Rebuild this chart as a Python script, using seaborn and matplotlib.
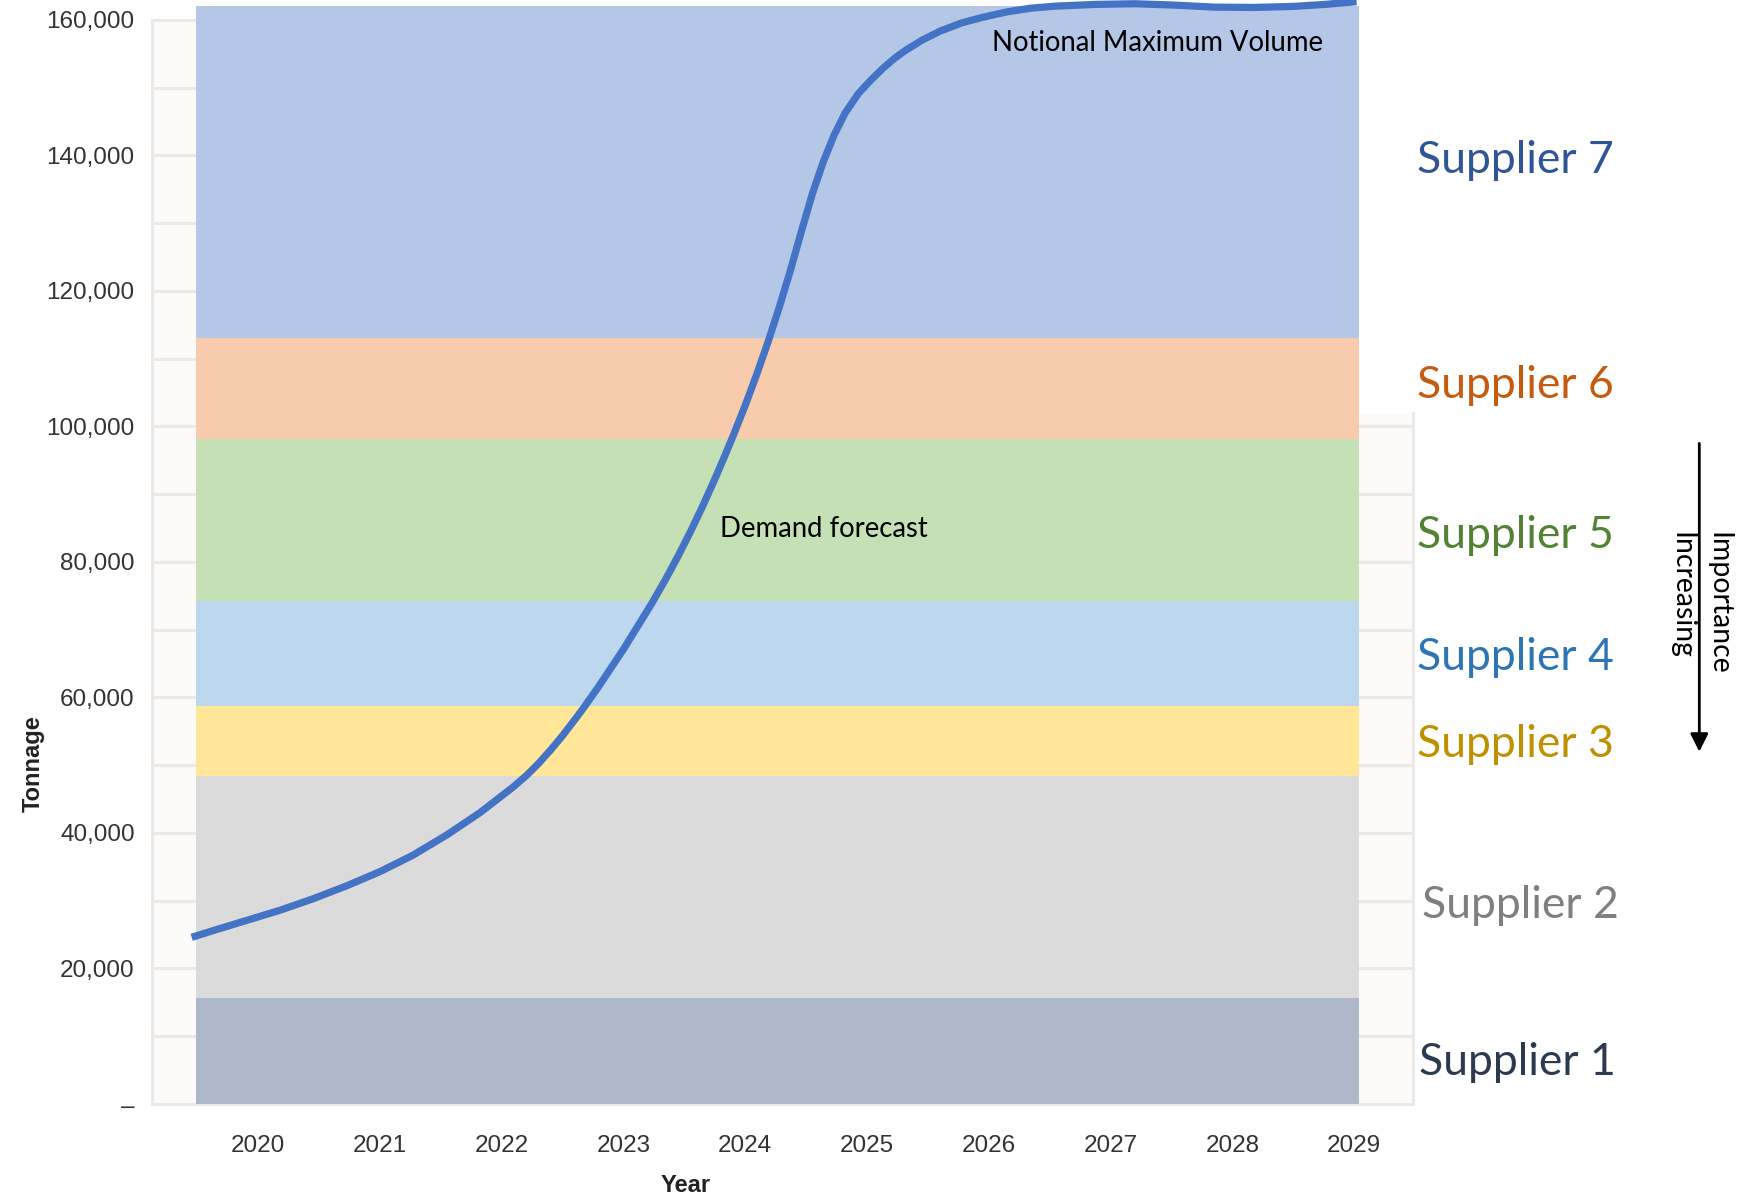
import matplotlib
matplotlib.use("Agg")
import matplotlib.pyplot as plt
from matplotlib.ticker import FuncFormatter, FixedLocator
from matplotlib.patches import Rectangle
import seaborn as sns

# Supplier capacity bands, bottom to top (tonnage)
suppliers = ["Supplier 1", "Supplier 2", "Supplier 3", "Supplier 4",
             "Supplier 5", "Supplier 6", "Supplier 7"]
band_lower = [0, 15600, 48400, 58700, 74200, 98200, 113100]
band_upper = [15600, 48400, 58700, 74200, 98200, 113100, 162100]
band_colors = ["#ADB9CA", "#DBDBDB", "#FFE699", "#BDD7EE",
               "#C5E0B4", "#F8CBAD", "#B4C7E7"]
label_colors = ["#2B3A4F", "#7F7F7F", "#BF9000", "#2E75B6",
                "#548235", "#C55A11", "#2F5597"]

# Demand forecast curve
forecast_year = [2019.456, 2019.633, 2019.907, 2020.181, 2020.454, 2020.728,
                 2021.002, 2021.275, 2021.549, 2021.823, 2022.096, 2022.205,
                 2022.300, 2022.400, 2022.500, 2022.600, 2022.671, 2022.800,
                 2022.900, 2023.000, 2023.100, 2023.232, 2023.350, 2023.450,
                 2023.550, 2023.650, 2023.750, 2023.830, 2023.902, 2024.000,
                 2024.100, 2024.190, 2024.280, 2024.370, 2024.460, 2024.550,
                 2024.640, 2024.730, 2024.820, 2024.930, 2025.030, 2025.130,
                 2025.230, 2025.320, 2025.450, 2025.600, 2025.774, 2025.950,
                 2026.150, 2026.350, 2026.550, 2026.880, 2027.200, 2027.520,
                 2027.849, 2028.170, 2028.498, 2028.760, 2029.020]
forecast_tonnage = [24600, 25600, 27100, 28600, 30300, 32200,
                    34300, 36750, 39700, 43000, 46800, 48500,
                    50200, 52200, 54350, 56700, 58400, 61700,
                    64400, 67100, 70000, 73850, 77550, 80900,
                    84450, 88200, 92200, 95550, 98650, 103100,
                    107950, 112600, 117600, 122950, 128700, 134250,
                    139000, 143000, 146250, 149150, 151100, 152850,
                    154400, 155550, 157000, 158350, 159550, 160400,
                    161200, 161750, 162050, 162300, 162400, 162200,
                    161900, 161850, 162000, 162300, 162700]

years = list(range(2020, 2030))
y_ticks = list(range(0, 160001, 20000))

W, H = 1741, 1202


def fx(px):
    return px / W


def fy(py):
    return 1 - py / H


sns.set_style("white")
plt.rcParams["font.family"] = ["Liberation Sans", "DejaVu Sans"]

fig = plt.figure(figsize=(W / 100, H / 100), dpi=100)
ax = fig.add_axes([fx(152), fy(1104), (1413 - 152) / W, 1104 / H])
ax.set_xlim(2019.13, 2029.483)
ax.set_ylim(0, 162950)
ax.set_facecolor("white")

grid_col = "#ECE8E6"
# off-white plotting area of the underlying chart
ax.axhspan(0, 160000, color="#FCFBFA", lw=0, zorder=0)

ax.set_yticks(y_ticks)
ax.yaxis.set_minor_locator(FixedLocator(list(range(10000, 160000, 20000))))
ax.yaxis.set_major_formatter(
    FuncFormatter(lambda v, p: "\u2013" if v == 0 else f"{int(v):,}"))
ax.set_xticks(years)
ax.set_xticklabels([str(y) for y in years])
ax.grid(axis="y", which="both", color=grid_col, lw=2.2, zorder=1)
ax.grid(axis="x", visible=False)
ax.tick_params(axis="both", which="both", length=0)
ax.tick_params(axis="y", pad=12.5, labelsize=17.5, labelcolor="#333333")
ax.tick_params(axis="x", pad=22, labelsize=17.5, labelcolor="#333333")

for side in ["left", "bottom", "right"]:
    ax.spines[side].set_color(grid_col)
    ax.spines[side].set_linewidth(2.2)
ax.spines["top"].set_visible(False)
ax.spines["left"].set_bounds(0, 160000)
ax.spines["right"].set_bounds(0, 102000)

band_x0, band_x1 = 2019.49, 2029.04
# white cover to the right of the upper bands
ax.add_patch(Rectangle((band_x1, 102000), 1.0, 70000, facecolor="white",
                       edgecolor="none", zorder=1.5))

for lo, hi, c in zip(band_lower, band_upper, band_colors):
    ax.fill_between([band_x0, band_x1], lo, hi, color=c, lw=0, zorder=3)

sns.lineplot(x=forecast_year, y=forecast_tonnage, ax=ax, color="#4472C4",
             linewidth=5.2, zorder=4, solid_capstyle="butt",
             solid_joinstyle="round")

# axis titles
fig.text(fx(33), fy(764), "Tonnage", rotation=90, ha="center", va="center",
         fontsize=17, fontweight="bold", color="#222222")
fig.text(fx(686), fy(1186), "Year", ha="center", va="center",
         fontsize=17, fontweight="bold", color="#222222")

# annotations on the chart
ov_font = ["Lato", "DejaVu Sans"]
fig.text(fx(992), fy(50.7), "Notional Maximum Volume", ha="left",
         va="baseline", fontsize=19.8, family=ov_font, color="black", zorder=6)
fig.text(fx(720), fy(536.7), "Demand forecast", ha="left",
         va="baseline", fontsize=19.8, family=ov_font, color="black", zorder=6)

# supplier labels beside the bands
label_x = [1419, 1421.7, 1417.3, 1417.3, 1417.3, 1417.3, 1417.3]
label_base = [1075, 918.3, 756.7, 670, 548.3, 398, 173.3]
for name, col, lx, ly in zip(suppliers, label_colors, label_x, label_base):
    fig.text(fx(lx), fy(ly), name, ha="left", va="baseline", fontsize=32,
             family=ov_font, color=col)

# importance arrow
ax.annotate("", xy=(fx(1699.3), fy(751.7)), xytext=(fx(1699.3), fy(443.3)),
            xycoords="figure fraction", textcoords="figure fraction",
            arrowprops=dict(arrowstyle="-|>,head_length=0.4,head_width=0.2",
                            lw=2, color="black", mutation_scale=27,
                            shrinkA=0, shrinkB=0),
            annotation_clip=False)
fig.text(fx(1718.3), fy(531.7), "Importance", rotation=270, ha="center",
         va="top", fontsize=20.4, family=ov_font, color="black")
fig.text(fx(1681.7), fy(531.7), "Increasing", rotation=270, ha="center",
         va="top", fontsize=20.4, family=ov_font, color="black")

fig.savefig("out.png", dpi=100, facecolor="white")
